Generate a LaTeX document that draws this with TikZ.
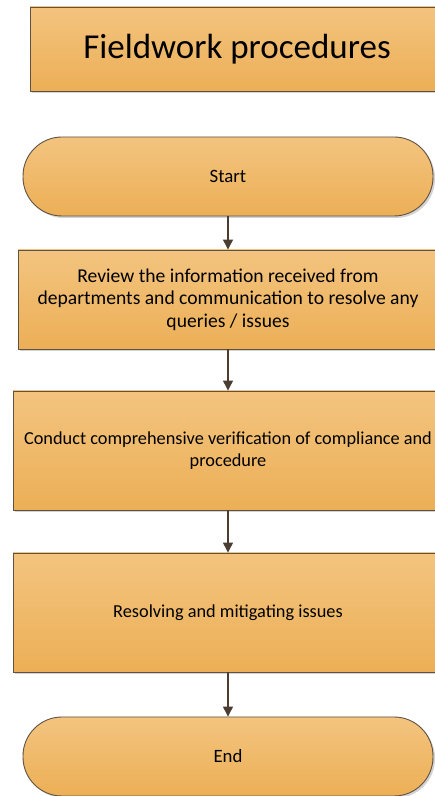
\documentclass[tikz,border=0pt]{standalone}
\usepackage{fontspec}
\setmainfont{Carlito}
\usetikzlibrary{arrows.meta,shadows}

\definecolor{boxtop}{HTML}{F3C47F}
\definecolor{boxbot}{HTML}{ECAF56}
\definecolor{boxline}{HTML}{5F5144}
\definecolor{arrowcol}{HTML}{4B3D31}

\begin{document}
\begin{tikzpicture}[>={Triangle[width=10pt,length=10pt]},x=1pt,y=1pt,
	box/.style={draw=boxline,line width=0.9pt,top color=boxtop,bottom color=boxbot,
		drop shadow={shadow xshift=2pt,shadow yshift=-2pt,fill=black!35},
		font=\fontsize{18.3}{22.6}\selectfont,align=center,inner sep=0pt},
	term/.style={box,rounded corners=39pt,font=\fontsize{18.8}{22.6}\selectfont},
	flow/.style={->,draw=arrowcol,line width=1.3pt}]
				\useasboundingbox (0,0) rectangle (435,796);
				
				%Titel
				\node[box,minimum width=414pt,minimum height=84pt,font=\fontsize{35}{40}\selectfont]
					(title) at (237,747) {Fieldwork procedures};
				
				%Ablauf
				\node[term,minimum width=410pt,minimum height=79pt] (start) at (228,619.5) {Start};
				\node[box,minimum width=420pt,minimum height=99pt,font=\fontsize{19.6}{22.6}\selectfont]
					(review) at (228,496.5)
					{Review the information received from\\departments and communication to resolve any\\queries / issues};
				\node[box,minimum width=430pt,minimum height=119pt] (verify) at (228,345.5)
					{Conduct comprehensive verification of compliance and\\procedure};
				\node[box,minimum width=430pt,minimum height=119pt] (resolve) at (228,183.5)
					{Resolving and mitigating issues};
				\node[term,minimum width=410pt,minimum height=79pt] (end) at (228,39.5) {End};
				
				%Pfeile
				\draw[flow] (start) -- (review);
				\draw[flow] (review) -- (verify);
				\draw[flow] (verify) -- (resolve);
				\draw[flow] (resolve) -- (end);
\end{tikzpicture}
\end{document}
